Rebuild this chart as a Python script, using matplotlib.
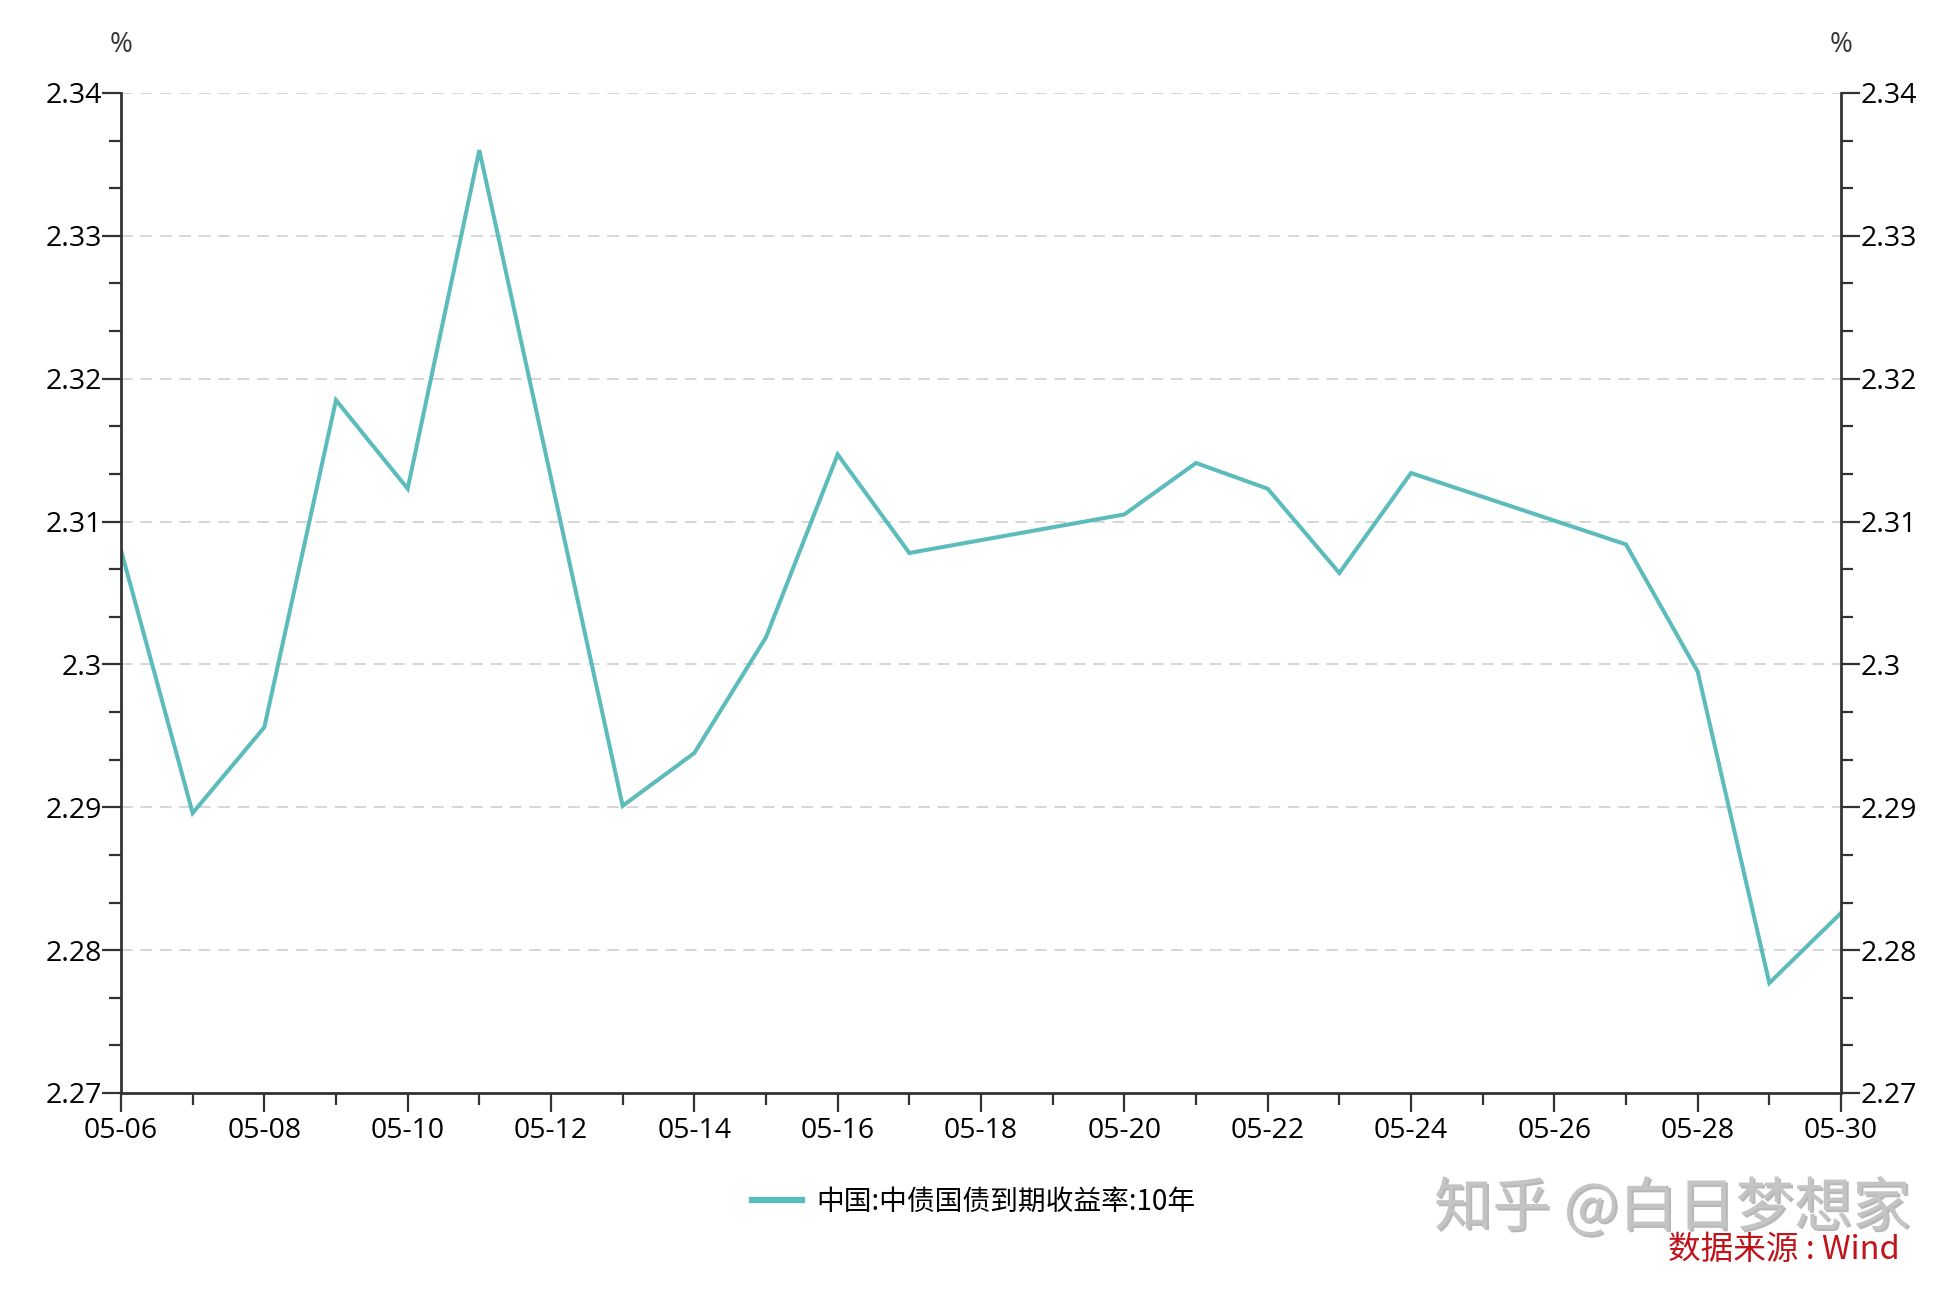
import matplotlib
matplotlib.use("Agg")
from matplotlib import pyplot as plt
import matplotlib.dates as mdates
from matplotlib.ticker import MultipleLocator, FixedLocator
import matplotlib.patheffects as pe
import numpy as np
import pandas as pd

plt.rcParams['font.family'] = ['Noto Sans CJK SC', 'DejaVu Sans']

# trading days (May 2024, 05-11 was a working Saturday)
dates = ["2024-05-06", "2024-05-07", "2024-05-08", "2024-05-09", "2024-05-10",
         "2024-05-11", "2024-05-13", "2024-05-14", "2024-05-15", "2024-05-16",
         "2024-05-17", "2024-05-20", "2024-05-21", "2024-05-22", "2024-05-23",
         "2024-05-24", "2024-05-27", "2024-05-28", "2024-05-29", "2024-05-30"]
yields = [2.3080, 2.2896, 2.2956, 2.3185, 2.3123,
          2.3360, 2.2901, 2.2938, 2.3019, 2.3147,
          2.3078, 2.3105, 2.3141, 2.3123, 2.3064,
          2.3134, 2.3084, 2.2995, 2.2777, 2.2826]
series_name = "中国:中债国债到期收益率:10年"
y_ticks = [2.27, 2.28, 2.29, 2.30, 2.31, 2.32, 2.33, 2.34]
y_labels = ["2.27", "2.28", "2.29", "2.3", "2.31", "2.32", "2.33", "2.34"]

x = pd.to_datetime(dates)
line_col = '#5cbbbb'
axis_col = '#333333'
tick_font = ['Open Sans', 'DejaVu Sans']

fig = plt.figure(figsize=(19.59, 12.92), dpi=100)
ax = fig.add_axes([121/1959, 1-1093/1292, (1841-121)/1959, (1093-93)/1292])

ax.plot(x, yields, color=line_col, lw=2.9, label=series_name, solid_joinstyle='miter')

ax.set_xlim(pd.Timestamp("2024-05-06"), pd.Timestamp("2024-05-30"))
ax.set_ylim(2.27, 2.34)

ax.xaxis.set_major_locator(mdates.DayLocator(bymonthday=range(6, 31, 2)))
ax.xaxis.set_minor_locator(mdates.DayLocator())
ax.xaxis.set_major_formatter(mdates.DateFormatter('%m-%d'))

ax.yaxis.set_major_locator(FixedLocator(y_ticks))
ax.set_yticklabels(y_labels)
ax.yaxis.set_minor_locator(MultipleLocator(0.01/3))

for y in y_ticks[1:]:
    ax.axhline(y, color='#d6d6d6', lw=1.4, ls=(0, (6, 4)), zorder=0)

for s in ['left', 'right', 'bottom']:
    ax.spines[s].set_color(axis_col)
    ax.spines[s].set_linewidth(2)
ax.spines['top'].set_visible(False)

ax.tick_params(axis='both', which='major', direction='out', colors=axis_col,
               width=1.6, length=14, labelsize=20.5, labelcolor='black')
ax.tick_params(axis='both', which='minor', direction='out', colors=axis_col,
               width=1.6, length=8.5)
ax.tick_params(axis='y', which='both', left=True, right=True,
               labelleft=True, labelright=True, pad=0)
ax.tick_params(axis='x', which='major', pad=3)
for lab in ax.get_xticklabels() + ax.get_yticklabels():
    lab.set_family(tick_font)
for t in ax.yaxis.get_major_ticks():
    t.label2.set_family(tick_font)

fig.text(121/1959, 1-45/1292, "%", fontsize=20, color='#333333', ha='center', va='center',
         family=tick_font)
fig.text(1841/1959, 1-45/1292, "%", fontsize=20, color='#333333', ha='center', va='center',
         family=tick_font)

leg = fig.legend(loc='center', bbox_to_anchor=(0.497, 1-1202/1292), frameon=False,
                 fontsize=20, handlelength=1.8, handletextpad=0.5)
for h in leg.get_lines():
    h.set_linewidth(4.5)

wm = fig.text(1911/1959, 1-1209/1292, "知乎 @白日梦想家", fontsize=42, color='#c4c4c4',
              ha='right', va='center')
wm.set_path_effects([pe.withSimplePatchShadow(offset=(1.5, -1.5), shadow_rgbFace='#8a8a8a', alpha=0.6)])

fig.text(1900/1959, 1-1250/1292, "数据来源 : Wind", fontsize=23.5, color='#c0141b',
         ha='right', va='center')

fig.savefig("out.png", dpi=100, facecolor='white')
